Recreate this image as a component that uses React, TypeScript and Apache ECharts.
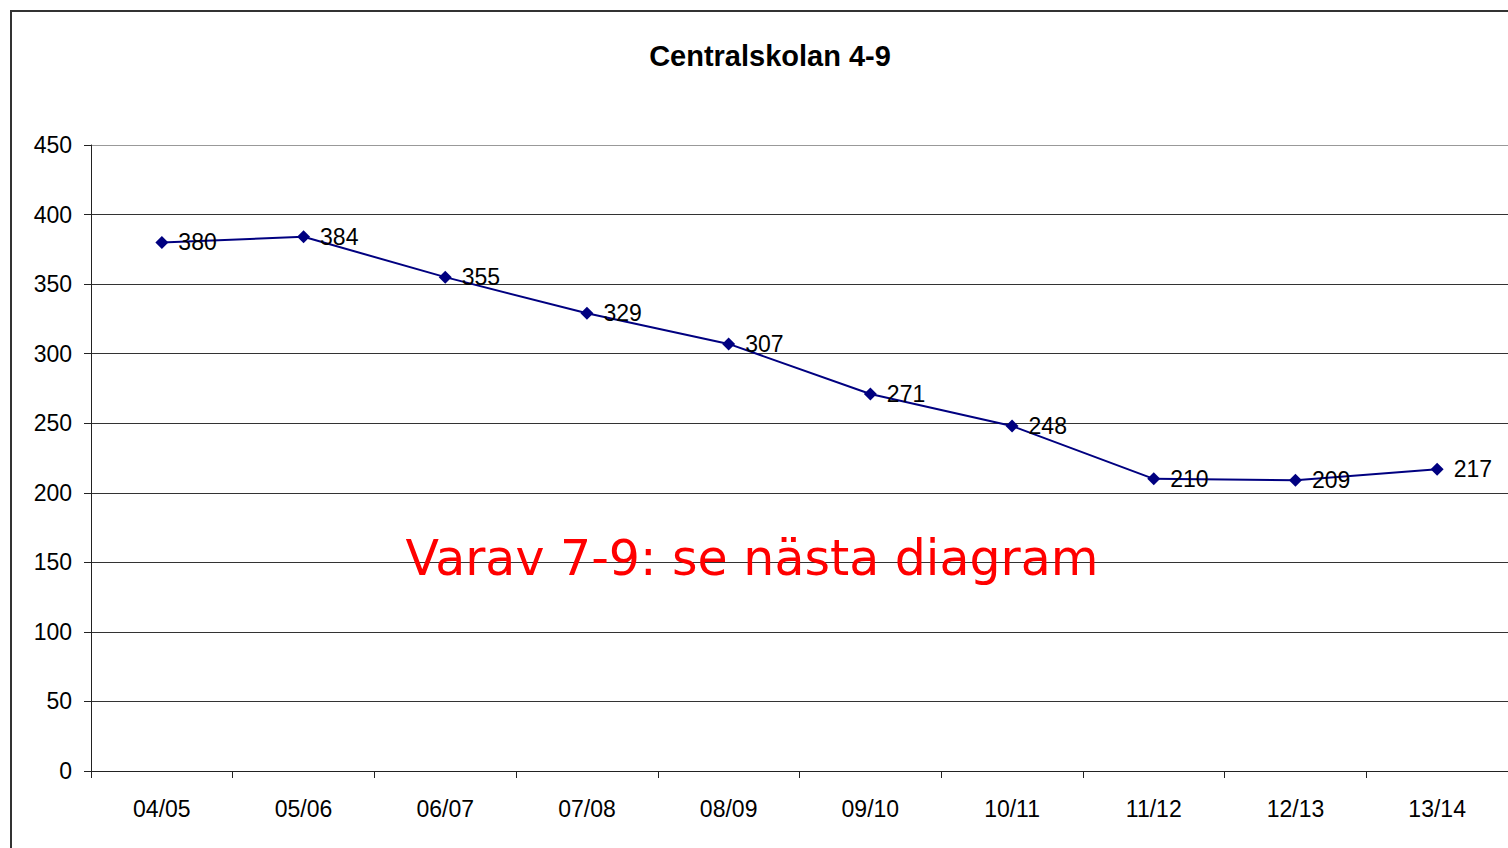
import React, { useEffect, useRef } from "react";
import * as echarts from "echarts";

const categories = ["04/05", "05/06", "06/07", "07/08", "08/09", "09/10", "10/11", "11/12", "12/13", "13/14"];
const values = [380, 384, 355, 329, 307, 271, 248, 210, 209, 217];
const titleText = "Centralskolan 4-9";
const noteText = "Varav 7-9: se nästa diagram";
const gridColors = ["#333", "#333", "#333", "#333", "#333", "#333", "#333", "#333", "#333", "#999"];

export default function App() {
  const ref = useRef<HTMLDivElement>(null);
  useEffect(() => {
    document.body.style.margin = "0";
    const chart = echarts.init(ref.current!, null, { renderer: "svg" });
    chart.setOption({
      animation: false,
      backgroundColor: "#fff",
      graphic: [
        {
          type: "rect",
          shape: { x: 11, y: 11, width: 1700, height: 1000 },
          style: { fill: "none", stroke: "#333", lineWidth: 2 },
          z: 100,
        },
        {
          type: "text",
          x: 770,
          y: 56,
          style: {
            text: titleText,
            fill: "#000",
            font: "bold 29px 'Liberation Sans'",
            textAlign: "center",
            textVerticalAlign: "middle",
          },
          z: 100,
        },
        {
          type: "text",
          x: 752,
          y: 558,
          style: {
            text: noteText,
            fill: "#ff0000",
            font: "49px 'DejaVu Sans'",
            textAlign: "center",
            textVerticalAlign: "middle",
          },
          z: 100,
        },
      ],
      grid: { left: 91, right: 0, top: 145, bottom: 77 },
      xAxis: {
        type: "category",
        data: categories,
        boundaryGap: true,
        axisLine: { lineStyle: { color: "#222", width: 1 } },
        axisTick: { show: true, length: 7, lineStyle: { color: "#222" } },
        axisLabel: { fontFamily: "Liberation Sans", fontSize: 23, color: "#000", margin: 26 },
      },
      yAxis: {
        type: "value",
        min: 0,
        max: 450,
        interval: 50,
        axisLine: { show: true, lineStyle: { color: "#222", width: 1 } },
        axisTick: { show: true, length: 7, lineStyle: { color: "#222" } },
        axisLabel: { fontFamily: "Liberation Sans", fontSize: 23, color: "#000", margin: 19 },
        splitLine: { show: true, lineStyle: { color: gridColors, width: 1 } },
      },
      series: [
        {
          type: "line",
          data: values,
          symbol: "diamond",
          symbolSize: 13,
          lineStyle: { color: "#000080", width: 2 },
          itemStyle: { color: "#000080" },
          label: {
            show: true,
            position: "right",
            distance: 10,
            fontFamily: "Liberation Sans",
            fontSize: 23,
            color: "#000",
          },
        },
      ],
    });
    return () => chart.dispose();
  }, []);
  return <div ref={ref} style={{ width: 1508, height: 848 }} />;
}
